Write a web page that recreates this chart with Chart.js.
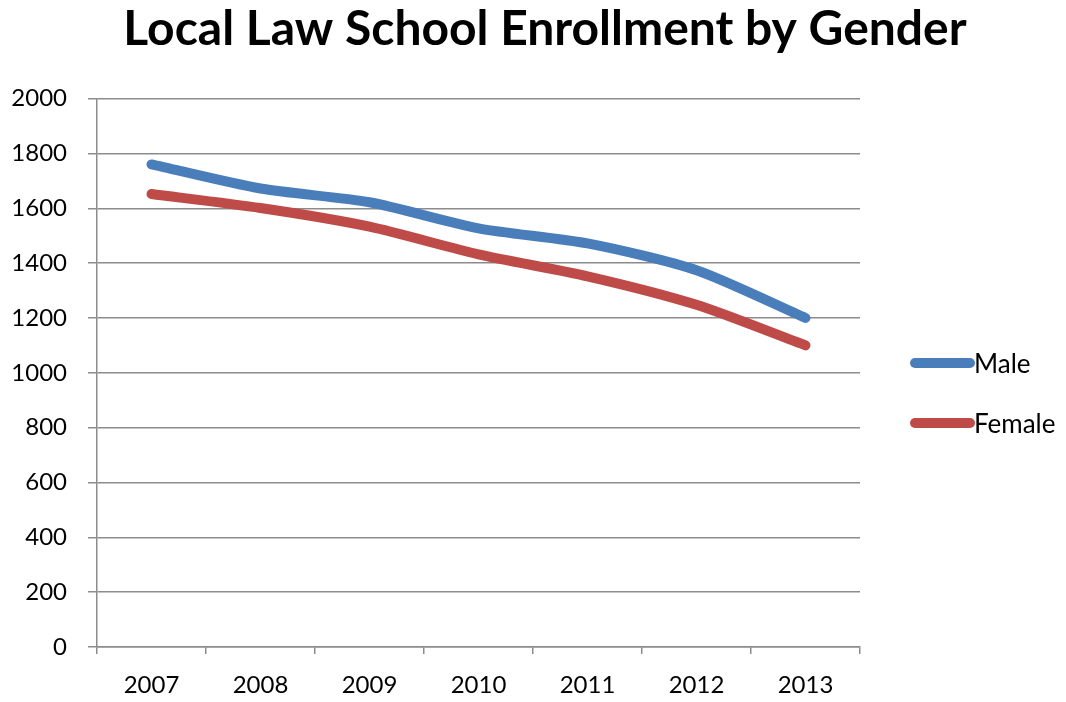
<!DOCTYPE html>
<html lang="en">
<head>
    <meta charset="UTF-8">
    <title>Local Law School Enrollment by Gender</title>
    <script src="https://cdn.jsdelivr.net/npm/chart.js"></script>
    <style>
        html, body {
            margin: 0;
            padding: 0;
            background: #fff;
        }
        #chartContainer {
            width: 1066px;
            height: 702px;
        }
    </style>
</head>
<body>
    <div id="chartContainer">
        <canvas id="chartCanvas"></canvas>
    </div>

    <script>
        // data
        const years = ["2007", "2008", "2009", "2010", "2011", "2012", "2013"];
        const maleValues = [1760, 1672, 1622, 1527, 1472, 1374, 1200];
        const femaleValues = [1652, 1601, 1533, 1432, 1352, 1248, 1100];
        const seriesNames = ["Male", "Female"];

        const gridGray = "#8c8c8c";
        const fontName = "Lato, 'Open Sans', sans-serif";

        // legend drawn by hand, next to the chart area
        const sideLegend = {
            id: "sideLegend",
            afterDraw(chart) {
                const ctx = chart.ctx;
                const x0 = chart.chartArea.right + 52;
                const rowY = [363, 423];
                ctx.save();
                chart.data.datasets.forEach((ds, i) => {
                    const y = rowY[i];
                    ctx.strokeStyle = ds.borderColor;
                    ctx.lineWidth = 10;
                    ctx.lineCap = "round";
                    ctx.beginPath();
                    ctx.moveTo(x0 + 3, y);
                    ctx.lineTo(x0 + 58, y);
                    ctx.stroke();
                    ctx.fillStyle = "#000";
                    ctx.font = "26px " + fontName;
                    ctx.textBaseline = "middle";
                    ctx.textAlign = "left";
                    ctx.fillText(ds.label, x0 + 62, y + 2);
                });
                ctx.restore();
            }
        };

        const ctx = document.getElementById("chartCanvas").getContext("2d");
        const chart = new Chart(ctx, {
            type: "line",
            data: {
                labels: years,
                datasets: [
                    {
                        label: seriesNames[0],
                        data: maleValues,
                        borderColor: "#4a7ebb",
                        backgroundColor: "#4a7ebb",
                        borderWidth: 10,
                        borderCapStyle: "round",
                        borderJoinStyle: "round",
                        pointRadius: 0,
                        tension: 0.25,
                        fill: false
                    },
                    {
                        label: seriesNames[1],
                        data: femaleValues,
                        borderColor: "#be4b48",
                        backgroundColor: "#be4b48",
                        borderWidth: 10,
                        borderCapStyle: "round",
                        borderJoinStyle: "round",
                        pointRadius: 0,
                        tension: 0.25,
                        fill: false
                    }
                ]
            },
            options: {
                responsive: true,
                maintainAspectRatio: false,
                animation: false,
                layout: {
                    // negative right padding keeps the title centred where the original has it
                    padding: { left: 10, right: -14, top: 0, bottom: 0 }
                },
                plugins: {
                    legend: { display: false },
                    tooltip: { enabled: false },
                    title: {
                        display: true,
                        text: "Local Law School Enrollment by Gender",
                        color: "#000",
                        font: { family: fontName, size: 48, weight: "bold", lineHeight: 1.2 },
                        padding: { top: 1, bottom: 40 }
                    }
                },
                scales: {
                    x: {
                        offset: true,
                        afterFit: s => { s.height = 55; },
                        grid: {
                            offset: true,
                            drawOnChartArea: false,
                            drawTicks: true,
                            tickLength: 7,
                            color: gridGray,
                            lineWidth: 1.5
                        },
                        border: { display: true, color: gridGray, width: 1.5 },
                        ticks: {
                            color: "#000",
                            padding: 17,
                            font: { family: fontName, size: 24 }
                        }
                    },
                    y: {
                        min: 0,
                        max: 2000,
                        afterFit: s => { s.width = 87; },
                        grid: {
                            color: gridGray,
                            lineWidth: 1.5,
                            tickLength: 9
                        },
                        border: { display: true, color: gridGray, width: 1.5 },
                        ticks: {
                            stepSize: 200,
                            color: "#000",
                            padding: 21,
                            font: { family: fontName, size: 24 },
                            callback: v => String(v)
                        }
                    },
                    // empty scale on the right, only to leave room for the legend
                    spacer: {
                        type: "linear",
                        position: "right",
                        display: true,
                        afterFit: s => { s.width = 220; },
                        grid: { display: false },
                        border: { display: false },
                        ticks: { display: false }
                    }
                }
            },
            plugins: [sideLegend]
        });
    </script>
</body>
</html>
